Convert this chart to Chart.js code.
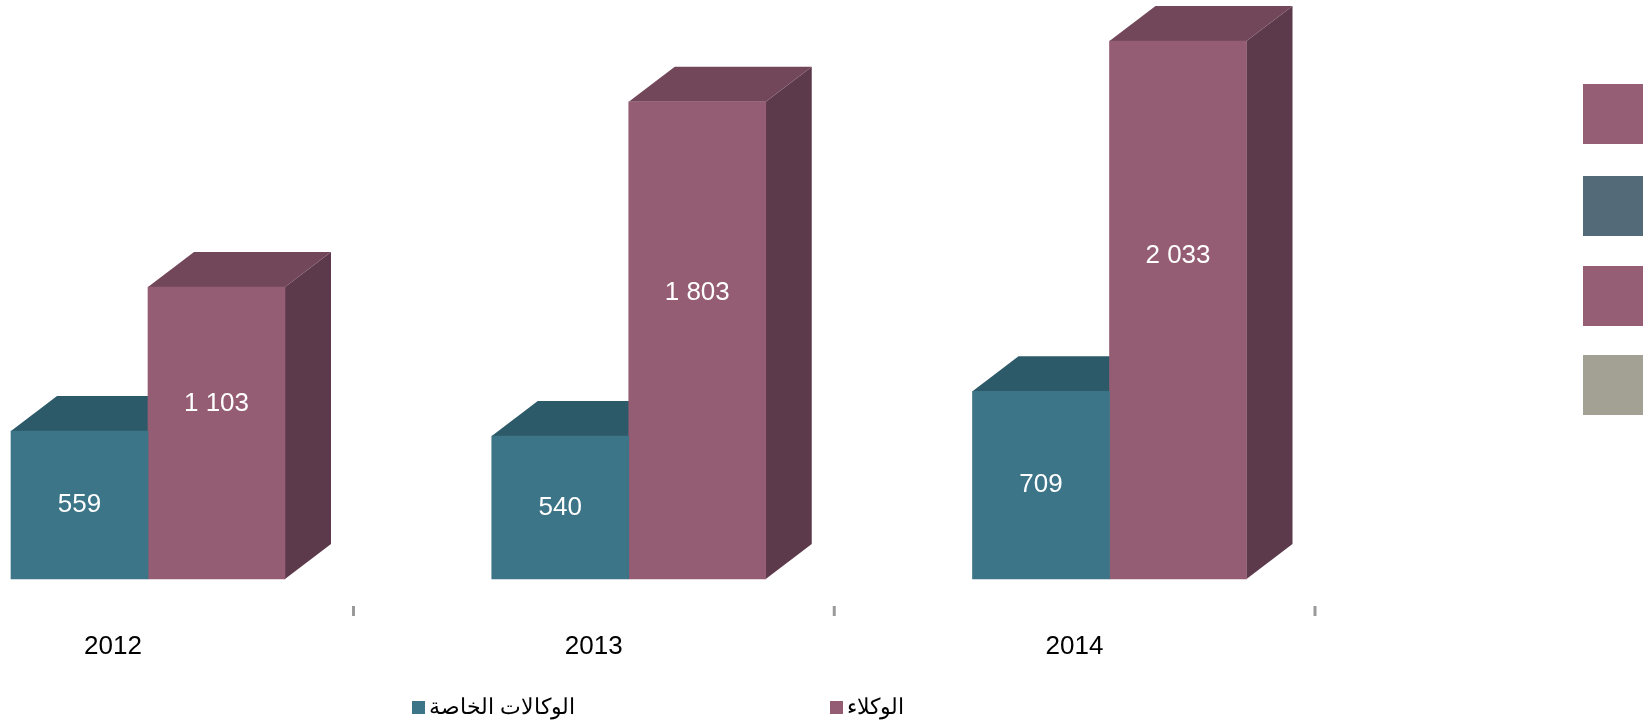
<!DOCTYPE html>
<html>
<head>
<meta charset="utf-8">
<script src="https://cdn.jsdelivr.net/npm/chart.js@4/dist/chart.umd.min.js"></script>
<style>
  body{margin:0;background:#fff;font-family:"Liberation Sans",Arial,sans-serif;}
  .wrap{position:relative;width:1649px;height:725px;overflow:hidden;}
  canvas{position:absolute;left:0;top:0;}
  .side-box{position:absolute;left:1583px;width:60px;height:60px;}
  .legend{position:absolute;top:694px;display:flex;align-items:center;font-size:22px;color:#000;}
  .legend .sw{width:13px;height:13px;margin-right:4px;}
</style>
</head>
<body>
<div class="wrap" id="wrap">
  <canvas id="c" width="1649" height="725"></canvas>
</div>
<script>
const categories = ['2012', '2013', '2014'];
const seriesNames = ['الوكالات الخاصة', 'الوكلاء'];
const privateAgencies = [559, 540, 709];
const agents = [1103, 1803, 2033];

// colours: front, top, side
const faceColors = [
  {front:'#3d7588', top:'#2d5a69', side:'#2a4f5c'},
  {front:'#955d73', top:'#724759', side:'#5d3a4b'},
];
const sideBoxColors = ['#955e75', '#536a79', '#955e75', '#a3a094'];
const sideBoxTops = [84, 176, 266, 355];

const DX = 46, DY = -35;
const labelPos = [0.5, 0.6]; // where the value sits along each bar (from base)

function fmtNum(v){ return String(v).replace(/\B(?=(\d{3})+(?!\d))/g, ' '); }

const bar3d = {
  id:'bar3d',
  beforeDatasetsDraw(chart){
    const ctx = chart.ctx;
    ctx.save();
    chart.data.datasets.forEach((ds, di)=>{
      const meta = chart.getDatasetMeta(di);
      const col = faceColors[di];
      meta.data.forEach(el=>{
        const {x, y, base, width} = el.getProps(['x','y','base','width'], true);
        const l = x - width/2, r = x + width/2;
        // side face
        ctx.fillStyle = col.side;
        ctx.beginPath();
        ctx.moveTo(r, y); ctx.lineTo(r+DX, y+DY); ctx.lineTo(r+DX, base+DY); ctx.lineTo(r, base);
        ctx.closePath(); ctx.fill();
        // top face
        ctx.fillStyle = col.top;
        ctx.beginPath();
        ctx.moveTo(l, y); ctx.lineTo(r, y); ctx.lineTo(r+DX, y+DY); ctx.lineTo(l+DX, y+DY);
        ctx.closePath(); ctx.fill();
      });
    });
    ctx.restore();
  },
  afterDatasetsDraw(chart){
    const ctx = chart.ctx;
    ctx.save();
    ctx.fillStyle = '#ffffff';
    ctx.font = '26px "Liberation Sans", Arial, sans-serif';
    ctx.textAlign = 'center';
    ctx.textBaseline = 'middle';
    chart.data.datasets.forEach((ds, di)=>{
      const meta = chart.getDatasetMeta(di);
      meta.data.forEach((el, i)=>{
        const {x, y, base} = el.getProps(['x','y','base'], true);
        ctx.fillText(fmtNum(ds.data[i]), x, base - (base - y) * labelPos[di]);
      });
    });
    ctx.restore();
  },
  afterDraw(chart){
    const ctx = chart.ctx, xs = chart.scales.x, bottom = chart.chartArea.bottom;
    ctx.save();
    ctx.font = '26px "Liberation Sans", Arial, sans-serif';
    ctx.textAlign = 'center';
    ctx.textBaseline = 'middle';
    categories.forEach((c, i)=>{
      const px = xs.getPixelForValue(i);
      ctx.fillStyle = '#000';
      ctx.fillText(c, px - 35, bottom + 68);
      ctx.fillStyle = '#9a9a9a';
      ctx.fillRect(px + 204, bottom + 27, 3, 10);
    });
    ctx.restore();
  }
};

new Chart(document.getElementById('c'), {
  type:'bar',
  data:{
    labels: categories,
    datasets:[
      {label: seriesNames[0], data: privateAgencies, backgroundColor: faceColors[0].front, borderWidth:0, barThickness:137, clip:false},
      {label: seriesNames[1], data: agents, backgroundColor: faceColors[1].front, borderWidth:0, barThickness:137, clip:false},
    ]
  },
  options:{
    responsive:false, animation:false,
    layout:{padding:{left:148, right:539.5, top:10, bottom:146}},
    plugins:{legend:{display:false}, tooltip:{enabled:false}},
    scales:{
      x:{display:false, offset:false},
      y:{display:false, min:0, max:2150}
    }
  },
  plugins:[bar3d]
});

// decorative boxes on the right
const wrap = document.getElementById('wrap');
sideBoxColors.forEach((c, i)=>{
  const d = document.createElement('div');
  d.className = 'side-box';
  d.style.top = sideBoxTops[i] + 'px';
  d.style.background = c;
  wrap.appendChild(d);
});

// legend below the chart
const legendLeft = [412, 830];
seriesNames.forEach((name, i)=>{
  const item = document.createElement('div');
  item.className = 'legend';
  item.style.left = legendLeft[i] + 'px';
  item.innerHTML = `<div class="sw" style="background:${faceColors[i].front}"></div><span dir="rtl">${name}</span>`;
  wrap.appendChild(item);
});
</script>
</body>
</html>
